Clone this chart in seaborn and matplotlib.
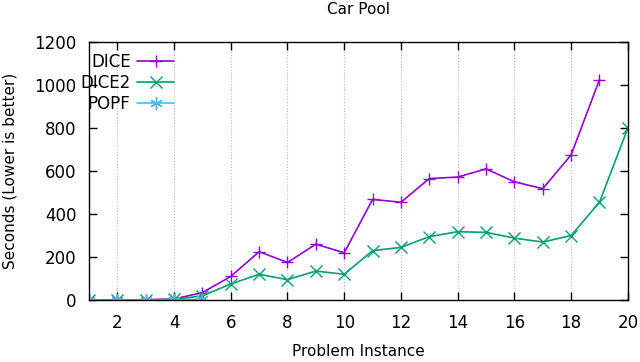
import numpy as np
import pandas as pd
import seaborn as sns
import matplotlib.pyplot as plt

instances = list(range(1, 21))
dice = [0, 0, 2, 5, 35, 110, 225, 175, 260, 220, 468, 455, 565, 572, 610, 550, 518, 675, 1025, np.nan]
dice2 = [0, 0, 1, 3, 20, 75, 120, 95, 135, 120, 230, 245, 295, 318, 315, 288, 270, 300, 455, 800]
popf = [0, 0, 0, 0, 5] + [np.nan] * 15

sns.set_style("ticks", {"text.color": "black", "axes.labelcolor": "black",
                        "xtick.color": "black", "ytick.color": "black",
                        "axes.edgecolor": "black"})
plt.rcParams['font.family'] = ['DejaVu Sans']

df = pd.DataFrame({"instance": instances * 3,
                   "seconds": dice + dice2 + popf,
                   "planner": ["DICE"] * 20 + ["DICE2"] * 20 + ["POPF"] * 20})

palette = {"DICE": "#9400d3", "DICE2": "#009e73", "POPF": "#56b4e9"}
markers = {"DICE": "+", "DICE2": "x", "POPF": (6, 2, 0)}

fig = plt.figure(figsize=(6.4, 3.62), dpi=100)
ax = fig.add_axes([0.139, 0.171, 0.842, 0.713])

sns.lineplot(data=df, x="instance", y="seconds", hue="planner", style="planner",
             palette=palette, markers=markers, dashes=False, markersize=9,
             markeredgewidth=1.0, linewidth=1.2, ax=ax, legend=False)

# seaborn paints marker edges white; give them the line colour
for line in ax.lines:
    line.set_markeredgecolor(line.get_color())
    line.set_markerfacecolor(line.get_color())

ax.set_xlim(1, 20)
ax.set_ylim(0, 1200)
ax.set_xticks(range(2, 21, 2))
ax.set_yticks(range(0, 1201, 200))
ax.tick_params(direction="in", top=True, right=True, length=6, labelsize=12, width=1)
ax.tick_params(axis="x", pad=10)
ax.tick_params(axis="y", pad=9)
ax.grid(axis="x", color="#bbbbbb", linestyle=":", linewidth=0.8)
for s in ax.spines.values():
    s.set_linewidth(1)
ax.set_xlabel("Problem Instance", fontsize=11, labelpad=9)
ax.set_ylabel("Seconds (Lower is better)", fontsize=11, labelpad=12)
ax.set_title("Car Pool", fontsize=11, pad=20)

leg = ax.legend(ax.lines[:3], ["DICE", "DICE2", "POPF"], loc="upper right",
                bbox_to_anchor=(0.17, 0.985), frameon=False, markerfirst=False,
                fontsize=12, handlelength=2.2, handletextpad=0.4,
                borderaxespad=0, labelspacing=0.2)

plt.savefig("out.png", dpi=100)
